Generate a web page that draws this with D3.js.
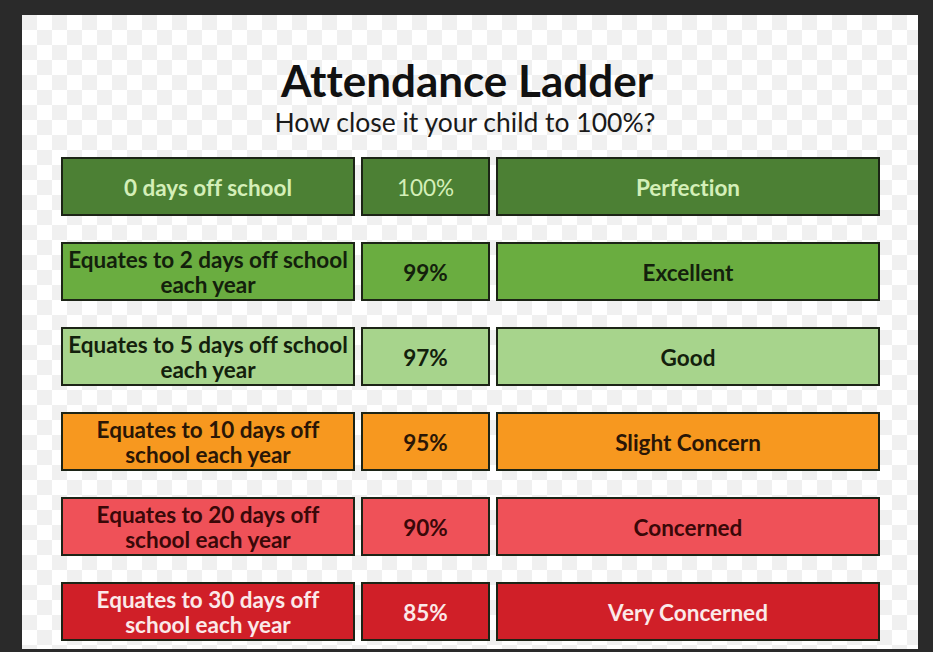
<!DOCTYPE html>
<html>
<head>
<meta charset="utf-8">
<script src="https://cdn.jsdelivr.net/npm/d3@7"></script>
<style>
  body { margin: 0; background: #2a2a2a; }
  svg { display: block; }
  text { font-variant-ligatures: none; }
</style>
</head>
<body>
<div id="my_dataviz"></div>
<script>
// ladder rows, top to bottom
var descriptions = [
    ["0 days off school"],
    ["Equates to 2 days off school", "each year"],
    ["Equates to 5 days off school", "each year"],
    ["Equates to 10 days off", "school each year"],
    ["Equates to 20 days off", "school each year"],
    ["Equates to 30 days off", "school each year"]
];
var percents = ["100%", "99%", "97%", "95%", "90%", "85%"];
var ratings = ["Perfection", "Excellent", "Good", "Slight Concern", "Concerned", "Very Concerned"];

// styling per row
var fills = ["#4c8034", "#6aad40", "#a7d48c", "#f7981f", "#ef5158", "#d01f28"];
var inks = ["#d4efb8", "#13200c", "#13200c", "#2a1606", "#3a0808", "#fbe9e9"];

var width = 933, height = 652;

var svg = d3.select("#my_dataviz")
    .append("svg")
    .attr("width", width)
    .attr("height", height);

// checkerboard background
var defs = svg.append("defs");
var pat = defs.append("pattern")
    .attr("id", "checker")
    .attr("patternUnits", "userSpaceOnUse")
    .attr("x", 22).attr("y", 15)
    .attr("width", 30).attr("height", 30);
pat.append("rect").attr("width", 30).attr("height", 30).attr("fill", "#ffffff");
pat.append("rect").attr("width", 15).attr("height", 15).attr("fill", "#f0f0f0");
pat.append("rect").attr("x", 15).attr("y", 15).attr("width", 15).attr("height", 15).attr("fill", "#f0f0f0");

svg.append("rect")
    .attr("width", width).attr("height", height)
    .attr("fill", "#2a2a2a");
svg.append("rect")
    .attr("x", 22).attr("y", 15)
    .attr("width", 896).attr("height", 634)
    .attr("fill", "url(#checker)");

// Title
svg.append("text")
    .attr("x", 467)
    .attr("y", 97)
    .attr("text-anchor", "middle")
    .style("font-family", "Lato")
    .style("font-weight", "bold")
    .style("font-size", "44px")
    .style("fill", "#111")
    .text("Attendance Ladder");

svg.append("text")
    .attr("x", 465)
    .attr("y", 132)
    .attr("text-anchor", "middle")
    .style("font-family", "Lato")
    .style("font-size", "26.5px")
    .style("fill", "#1a1a1a")
    .text("How close it your child to 100%?");

// rows and columns
var y = d3.scaleBand()
    .domain(d3.range(ratings.length))
    .range([158, 640])
    .paddingInner(28 / 85);

var columns = [
    { key: "desc", x: 62, w: 292, texts: descriptions },
    { key: "pct", x: 362, w: 127, texts: percents.map(p => [p]) },
    { key: "rate", x: 497, w: 382, texts: ratings.map(r => [r]) }
];

var lineGap = 25;

columns.forEach(col => {
    var g = svg.append("g").attr("class", col.key);

    var cell = g.selectAll("g")
        .data(col.texts)
        .enter().append("g")
        .attr("transform", (d, i) => "translate(" + col.x + "," + y(i) + ")");

    cell.append("rect")
        .attr("width", col.w)
        .attr("height", y.bandwidth())
        .attr("fill", (d, i) => fills[i])
        .attr("stroke", "#1c2416")
        .attr("stroke-width", 2);

    cell.each(function (lines, i) {
        var t = d3.select(this).append("text")
            .attr("text-anchor", "middle")
            .style("font-family", "Lato")
            .style("font-weight", (col.key == "pct" && i == 0) ? "normal" : "bold")
            .style("font-size", "22.5px")
            .style("fill", inks[i]);
        var startY = y.bandwidth() / 2 + 9 - (lines.length - 1) * lineGap / 2;
        lines.forEach((ln, k) => {
            t.append("tspan")
                .attr("x", col.w / 2)
                .attr("y", startY + k * lineGap)
                .text(ln);
        });
    });
});
</script>
</body>
</html>
